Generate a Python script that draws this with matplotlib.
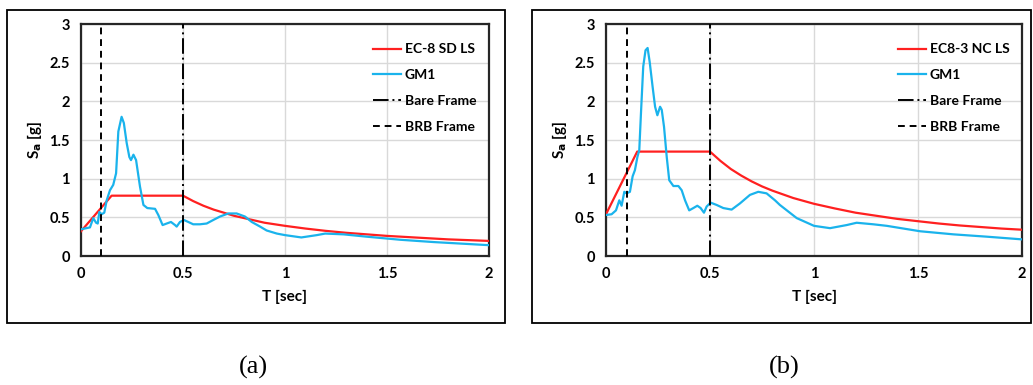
import numpy as np
import matplotlib
matplotlib.use("Agg")
import matplotlib.pyplot as plt
from matplotlib.patches import Rectangle

# --- data ---
# EC-8 code spectra (period in s, Sa in g)
ec8_t = [0.0, 0.15, 0.5, 0.55, 0.6, 0.65, 0.7, 0.75, 0.8, 0.9, 1.0, 1.1, 1.2, 1.3,
         1.4, 1.5, 1.6, 1.7, 1.8, 1.9, 2.0]
ec8_sd = [0.32, 0.78, 0.78, 0.71, 0.65, 0.60, 0.56, 0.52, 0.49, 0.43, 0.39, 0.355, 0.325, 0.30,
          0.28, 0.26, 0.245, 0.23, 0.215, 0.205, 0.195]
ec8_nc = [0.54, 1.35, 1.35, 1.23, 1.125, 1.04, 0.965, 0.90, 0.845, 0.75, 0.675, 0.615, 0.56, 0.52,
          0.48, 0.45, 0.42, 0.395, 0.375, 0.355, 0.34]

# GM1 scaled spectrum, panel (a)
gm_a_t = [0.0, 0.044, 0.06, 0.074, 0.082, 0.09, 0.101, 0.114, 0.126, 0.142, 0.158, 0.172,
          0.183, 0.199, 0.21, 0.224, 0.237, 0.245, 0.257, 0.27, 0.289, 0.306, 0.325, 0.363,
          0.379, 0.40, 0.42, 0.441, 0.461, 0.469, 0.485, 0.505, 0.526, 0.55, 0.583, 0.616,
          0.648, 0.681, 0.722, 0.763, 0.804, 0.837, 0.878, 0.91, 0.96, 1.0, 1.08, 1.156,
          1.197, 1.287, 1.4, 1.565, 1.73, 2.0]
gm_a_sa = [0.345, 0.37, 0.49, 0.43, 0.42, 0.57, 0.54, 0.56, 0.72, 0.85, 0.92, 1.07,
           1.61, 1.80, 1.72, 1.46, 1.28, 1.24, 1.31, 1.24, 0.90, 0.66, 0.62, 0.61,
           0.53, 0.40, 0.42, 0.44, 0.40, 0.38, 0.44, 0.465, 0.44, 0.41, 0.41, 0.42,
           0.465, 0.51, 0.55, 0.55, 0.51, 0.44, 0.38, 0.33, 0.29, 0.27, 0.24, 0.27,
           0.29, 0.28, 0.25, 0.21, 0.18, 0.14]

# GM1 scaled spectrum, panel (b)
gm_b_t = [0.0, 0.027, 0.048, 0.064, 0.075, 0.088, 0.099, 0.115, 0.128, 0.139, 0.151, 0.16,
          0.168, 0.179, 0.19, 0.2, 0.21, 0.224, 0.236, 0.247, 0.26, 0.268, 0.279, 0.292,
          0.304, 0.324, 0.348, 0.364, 0.38, 0.40, 0.42, 0.439, 0.455, 0.471, 0.484, 0.503,
          0.532, 0.564, 0.604, 0.644, 0.692, 0.732, 0.772, 0.8125, 0.836, 0.917, 1.0,
          1.077, 1.157, 1.205, 1.285, 1.35, 1.51, 1.67, 1.83, 2.0]
gm_b_sa = [0.53, 0.54, 0.59, 0.72, 0.65, 0.83, 0.81, 0.83, 1.03, 1.11, 1.28, 1.37,
           1.84, 2.45, 2.66, 2.69, 2.51, 2.19, 1.93, 1.82, 1.93, 1.89, 1.67, 1.28,
           0.98, 0.905, 0.905, 0.85, 0.72, 0.59, 0.62, 0.65, 0.62, 0.56, 0.64, 0.69,
           0.66, 0.62, 0.60, 0.68, 0.79, 0.83, 0.81, 0.72, 0.66, 0.49, 0.39,
           0.36, 0.40, 0.43, 0.41, 0.39, 0.32, 0.28, 0.25, 0.215]

t_brb = 0.1
t_bare = 0.5
code_labels = ["EC-8 SD LS", "EC8-3 NC LS"]
captions = ["(a)", "(b)"]

W, H = 1033, 385
fig = plt.figure(figsize=(W / 100, H / 100), dpi=100)
plt.rcParams['font.family'] = ['Lato', 'DejaVu Sans']

RED = '#ff2020'
BLUE = '#1ab3ec'


def px_axes(x0, x1, y0, y1):
    return fig.add_axes([x0 / W, 1 - y1 / H, (x1 - x0) / W, (y1 - y0) / H])


panels = [
    dict(ax=(81, 489, 24, 256), box=(7, 10, 505, 323), code=ec8_sd, gt=gm_a_t, gs=gm_a_sa, cap_x=253),
    dict(ax=(606, 1022, 24, 256), box=(532, 10, 1031, 323), code=ec8_nc, gt=gm_b_t, gs=gm_b_sa, cap_x=784),
]

for i, p in enumerate(panels):
    bx0, by0, bx1, by1 = p['box']
    fig.patches.append(Rectangle((bx0 / W, 1 - by1 / H), (bx1 - bx0) / W, (by1 - by0) / H,
                                 transform=fig.transFigure, fill=False, ec='black', lw=1.3))
    ax = px_axes(*p['ax'])
    ax.plot(ec8_t, p['code'], color=RED, lw=1.6, label=code_labels[i], zorder=3)
    ax.plot(p['gt'], p['gs'], color=BLUE, lw=1.6, label='GM1', zorder=3)
    ax.axvline(t_bare, color='black', lw=1.4, ls=(0, (8, 2, 1, 2)), label='Bare Frame', zorder=4)
    ax.axvline(t_brb, color='black', lw=1.4, ls=(0, (3.5, 2.5)), label='BRB Frame', zorder=4)
    ax.set_xlim(0, 2)
    ax.set_ylim(0, 3)
    ax.set_xticks(np.arange(0, 2.01, 0.5))
    ax.set_yticks(np.arange(0, 3.01, 0.5))
    ax.set_xticklabels(['0', '0.5', '1', '1.5', '2'])
    ax.set_yticklabels(['0', '0.5', '1', '1.5', '2', '2.5', '3'])
    ax.grid(True, color='#d9d9d9', lw=1.0)
    ax.set_axisbelow(True)
    ax.tick_params(length=0, labelsize=10.5, pad=8)
    for lab in ax.get_xticklabels() + ax.get_yticklabels():
        lab.set_fontweight('bold')
    for s in ax.spines.values():
        s.set_linewidth(1.6)
        s.set_color('#262626')
    ax.set_xlabel('T [sec]', fontsize=11, fontweight='bold', labelpad=6)
    ax.set_ylabel(r'S$_\mathbf{a}$ [g]', fontsize=11, fontweight='bold', labelpad=4)
    leg = ax.legend(loc='upper right', frameon=False, fontsize=10,
                    handlelength=2.0, handletextpad=0.3, labelspacing=1.0,
                    bbox_to_anchor=(1.0, 0.97))
    for t in leg.get_texts():
        t.set_fontweight('bold')
    fig.text(p['cap_x'] / W, 1 - 367 / H, captions[i], ha='center', va='center',
             fontsize=19, family='Liberation Serif')

fig.savefig('out.png', dpi=100)
